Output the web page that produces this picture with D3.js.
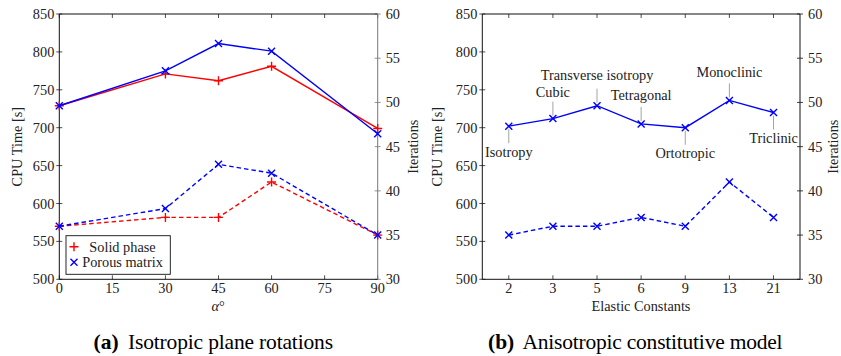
<!DOCTYPE html>
<html>
<head>
<meta charset="utf-8">
<script src="https://cdn.jsdelivr.net/npm/d3@7"></script>
<style>
    body { margin: 0; background: #fff; }
    svg { display: block; }
</style>
</head>
<body>
<script>
// Chart (a): isotropic plane rotations
const angles = [0, 30, 45, 60, 90];
const angleTicks = [0, 15, 30, 45, 60, 75, 90];
const solidCpu = [729, 771, 762, 781, 699];
const porousCpu = [729, 775, 811, 801, 692];
const solidIter = [36, 37, 37, 41, 35];
const porousIter = [36, 38, 43, 42, 35];

// Chart (b): anisotropic constitutive model
const elasticConstants = ["2", "3", "5", "6", "9", "13", "21"];
const symmetryNames = ["Isotropy", "Cubic", "Transverse isotropy", "Tetragonal", "Ortotropic", "Monoclinic", "Triclinic"];
const anisoCpu = [702, 712, 729, 705, 700, 736, 720];
const anisoIter = [35, 36, 36, 37, 36, 41, 37];

// Shared axis ticks
const cpuTicks = [500, 550, 600, 650, 700, 750, 800, 850];
const iterTicks = [30, 35, 40, 45, 50, 55, 60];

const RED = "#ff0000";
const BLUE = "#0000ff";
const FONT = '"Liberation Serif"';
const LABEL_SIZE = "14.3px";
const PLOT_TOP = 14, PLOT_BOTTOM = 279.3;

const svg = d3.select("body").append("svg")
    .attr("width", 841)
    .attr("height", 356)
    .style("font-family", FONT);

const yCpu = d3.scaleLinear().domain([500, 850]).range([PLOT_BOTTOM, PLOT_TOP]);
const yIter = d3.scaleLinear().domain([30, 60]).range([PLOT_BOTTOM, PLOT_TOP]);

function label(g, x, y, txt, anchor) {
    return g.append("text")
        .attr("x", x).attr("y", y)
        .attr("text-anchor", anchor || "start")
        .style("font-family", FONT)
        .style("font-size", LABEL_SIZE)
        .attr("fill", "#222")
        .text(txt);
}

function drawMarker(g, type, x, y, color) {
    const s = type === "plus" ? 4.5 : 3.5;
    const p = type === "plus"
        ? `M${x - s},${y}H${x + s}M${x},${y - s}V${y + s}`
        : `M${x - s},${y - s}L${x + s},${y + s}M${x - s},${y + s}L${x + s},${y - s}`;
    g.append("path").attr("d", p)
        .attr("stroke", color).attr("stroke-width", 1.4).attr("fill", "none");
}

function drawSeries(g, xs, ys, xScale, yScale, color, marker, dashed) {
    const pts = xs.map((x, i) => [xScale(x), yScale(ys[i])]);
    g.append("path")
        .attr("d", d3.line()(pts))
        .attr("fill", "none")
        .attr("stroke", color)
        .attr("stroke-width", 1.4)
        .attr("stroke-dasharray", dashed ? "4.5,3" : null);
    pts.forEach(([x, y]) => drawMarker(g, marker, x, y, color));
}

function drawFrame(g, x0, x1, xTickPos, xTickText, rightColor) {
    // y ticks and labels on both sides
    cpuTicks.forEach(t => {
        const y = yCpu(t);
        g.append("line").attr("x1", x0 - 3).attr("x2", x0 + 3).attr("y1", y).attr("y2", y)
            .attr("stroke", "#222").attr("stroke-width", 0.8);
        label(g, x0 - 5, y, t, "end").attr("dy", "0.35em");
    });
    iterTicks.forEach(t => {
        const y = yIter(t);
        g.append("line").attr("x1", x1 - 3).attr("x2", x1 + 3).attr("y1", y).attr("y2", y)
            .attr("stroke", rightColor).attr("stroke-width", 0.8);
        label(g, x1 + 8, y, t).attr("dy", "0.35em");
    });
    // x ticks inside, top and bottom
    xTickPos.forEach((x, i) => {
        g.append("line").attr("x1", x).attr("x2", x).attr("y1", PLOT_BOTTOM).attr("y2", PLOT_BOTTOM - 4)
            .attr("stroke", "#222").attr("stroke-width", 0.8);
        g.append("line").attr("x1", x).attr("x2", x).attr("y1", PLOT_TOP).attr("y2", PLOT_TOP + 4)
            .attr("stroke", "#222").attr("stroke-width", 0.8);
        label(g, x, PLOT_BOTTOM + 14, xTickText[i], "middle");
    });
    // box
    g.append("path")
        .attr("d", `M${x1},${PLOT_TOP}H${x0}V${PLOT_BOTTOM}H${x1}`)
        .attr("fill", "none").attr("stroke", "#111").attr("stroke-width", 1);
    g.append("line").attr("x1", x1).attr("x2", x1).attr("y1", PLOT_TOP).attr("y2", PLOT_BOTTOM)
        .attr("stroke", rightColor).attr("stroke-width", 1);
}

function axisTitles(g, xLeft, xRight) {
    const cy = (PLOT_TOP + PLOT_BOTTOM) / 2;
    label(g, 0, 0, "CPU Time [s]", "middle")
        .attr("transform", `translate(${xLeft},${cy}) rotate(-90)`);
    label(g, 0, 0, "Iterations", "middle")
        .attr("transform", `translate(${xRight},${cy}) rotate(-90)`);
}

function caption(g, x, tag, text, width) {
    g.append("text").attr("x", x).attr("y", 349)
        .style("font-family", FONT).style("font-size", "21.5px").style("font-weight", "bold")
        .text(tag);
    g.append("text").attr("x", x + 34.5).attr("y", 349)
        .style("font-family", FONT).style("font-size", "21.5px")
        .attr("textLength", width).attr("lengthAdjust", "spacing")
        .text(text);
}

// ---- Chart (a) ----
const gA = svg.append("g");
const xAngle = d3.scaleLinear().domain([0, 90]).range([59.3, 377.7]);

drawFrame(gA, 59.3, 377.7, angleTicks.map(xAngle), angleTicks, "#777");
drawSeries(gA, angles, solidCpu, xAngle, yCpu, RED, "plus", false);
drawSeries(gA, angles, porousCpu, xAngle, yCpu, BLUE, "cross", false);
drawSeries(gA, angles, solidIter, xAngle, yIter, RED, "plus", true);
drawSeries(gA, angles, porousIter, xAngle, yIter, BLUE, "cross", true);

axisTitles(gA, 22, 418);
const alpha = label(gA, 218, 311, "", "middle");
alpha.append("tspan").style("font-style", "italic").text("α");
alpha.append("tspan").text("°");

// legend
const legend = gA.append("g");
legend.append("rect").attr("x", 66).attr("y", 235.7).attr("width", 104.3).attr("height", 38.6)
    .attr("fill", "#fff").attr("stroke", "#111").attr("stroke-width", 0.9);
[["Solid phase", RED, "plus"], ["Porous matrix", BLUE, "cross"]].forEach(([name, color, mk], i) => {
    const y = 246.7 + i * 15.6;
    drawMarker(legend, mk, 74, y, color);
    label(legend, 122.5, y, name, "middle").attr("dy", "0.35em");
});

caption(gA, 93.5, "(a)", "Isotropic plane rotations", 205);

// ---- Chart (b) ----
const gB = svg.append("g");
const xConst = d3.scalePoint().domain(elasticConstants).range([482.3, 800]).padding(0.6);

drawFrame(gB, 482.3, 800, elasticConstants.map(xConst), elasticConstants, "#111");
drawSeries(gB, elasticConstants, anisoCpu, xConst, yCpu, BLUE, "cross", false);
drawSeries(gB, elasticConstants, anisoIter, xConst, yIter, BLUE, "cross", true);

// pins naming each symmetry class (pgfplots-like pin=90 / pin=270)
const pinBelow = new Set(["Isotropy", "Ortotropic", "Triclinic"]);
const pinLift = { "Cubic": 21.5, "Transverse isotropy": 25.5 };
symmetryNames.forEach((name, i) => {
    const x = xConst(elasticConstants[i]);
    const y = yCpu(anisoCpu[i]);
    const dir = pinBelow.has(name) ? 1 : -1;
    gB.append("line")
        .attr("x1", x).attr("x2", x)
        .attr("y1", y + dir * 3).attr("y2", y + dir * 17)
        .attr("stroke", "#999").attr("stroke-width", 0.9);
    label(gB, x, dir > 0 ? y + 30.5 : y - (pinLift[name] || 23.5), name, "middle");
});

axisTitles(gB, 442, 838);
label(gB, 641, 311, "Elastic Constants", "middle");
caption(gB, 488, "(b)", "Anisotropic constitutive model", 260);
</script>
</body>
</html>
